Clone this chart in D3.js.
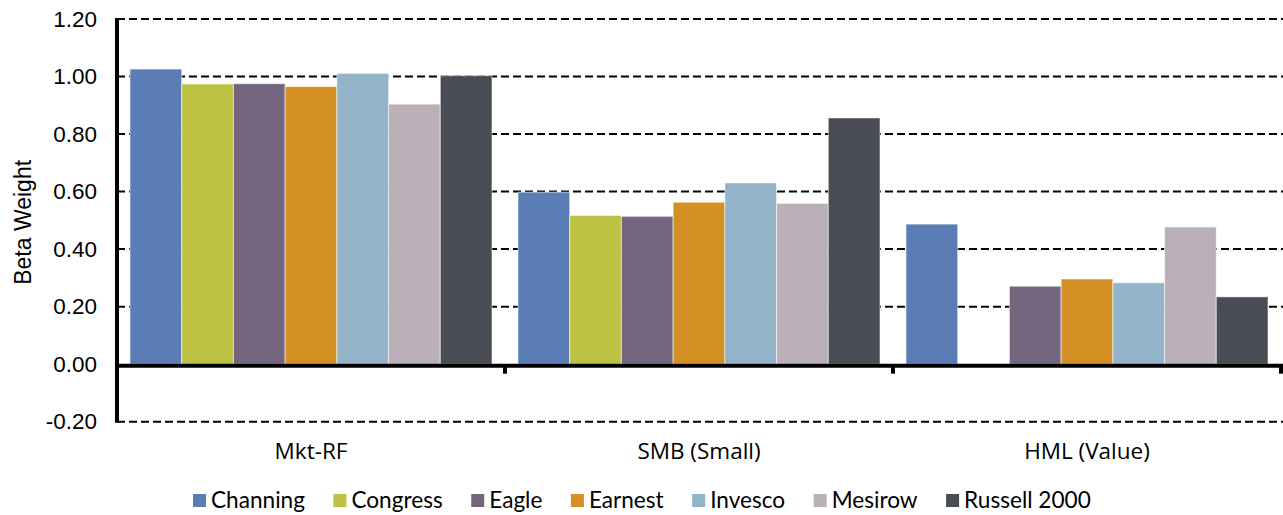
<!DOCTYPE html>
<html>
<head>
<meta charset="utf-8">
<script src="https://cdn.jsdelivr.net/npm/d3@7"></script>
<style>
  html, body { margin: 0; padding: 0; background: #fff; }
  svg { display: block; }
</style>
</head>
<body>
<svg id="chart" width="1283" height="515"></svg>
<script>
// ---- data ----
const categories = ["Mkt-RF", "SMB (Small)", "HML (Value)"];
const seriesNames = ["Channing", "Congress", "Eagle", "Earnest", "Invesco", "Mesirow", "Russell 2000"];
const channing   = [1.026, 0.598, 0.487];
const congress   = [0.974, 0.517, 0.000];
const eagle      = [0.975, 0.514, 0.271];
const earnest    = [0.965, 0.563, 0.296];
const invesco    = [1.011, 0.630, 0.283];
const mesirow    = [0.904, 0.559, 0.477];
const russell    = [1.003, 0.856, 0.234];
const yTicks = [-0.20, 0.00, 0.20, 0.40, 0.60, 0.80, 1.00, 1.20];
const colors = ["#5B7DB5", "#BDC242", "#74667F", "#D59025", "#93B4C8", "#BBAFB8", "#4A4C55"];

const seriesValues = [channing, congress, eagle, earnest, invesco, mesirow, russell];

// ---- layout ----
const svg = d3.select("#chart");
const plotLeft = 117, plotRight = 1281, plotTop = 19, plotBottom = 421.7;

const x = d3.scaleBand().domain(categories).range([plotLeft, plotRight]).padding(0);
const groupW = x.bandwidth();
const xi = d3.scaleBand().domain(seriesNames).range([groupW * 0.0335, groupW * 0.9665]).padding(0);
const y = d3.scaleLinear().domain([-0.2, 1.2]).range([plotBottom, plotTop]);

// gridlines
svg.append("g").selectAll("line")
  .data(yTicks.filter(t => t !== 0))
  .join("line")
  .attr("x1", plotLeft).attr("x2", 1283)
  .attr("y1", d => y(d)).attr("y2", d => y(d))
  .attr("stroke", "#000").attr("stroke-width", 2)
  .attr("stroke-dasharray", "8,4");

// bars
const rows = [];
categories.forEach((c, ci) => {
  seriesNames.forEach((s, si) => {
    rows.push({ cat: c, series: s, value: seriesValues[si][ci], color: colors[si] });
  });
});

svg.append("g").selectAll("rect")
  .data(rows.filter(d => d.value !== 0))
  .join("rect")
  .attr("x", d => x(d.cat) + xi(d.series))
  .attr("width", xi.bandwidth())
  .attr("y", d => y(Math.max(0, d.value)))
  .attr("height", d => Math.abs(y(d.value) - y(0)))
  .attr("fill", d => d.color)
  .attr("stroke", "rgba(255,255,255,0.55)")
  .attr("stroke-width", 1);

// y axis
const fmt = d3.format(".2f");
const yAxis = d3.axisLeft(y).tickValues(yTicks)
  .tickFormat(d => fmt(d).replace("\u2212", "-"))
  .tickSize(0).tickPadding(20);
const gy = svg.append("g").attr("transform", `translate(${plotLeft},0)`).call(yAxis);
gy.select(".domain").remove();
gy.selectAll("text")
  .attr("font-family", "'Liberation Sans', Arial, sans-serif")
  .attr("font-size", 22.5)
  .attr("fill", "#000");

svg.append("line")
  .attr("x1", plotLeft).attr("x2", plotLeft)
  .attr("y1", plotTop - 1).attr("y2", plotBottom + 1)
  .attr("stroke", "#000").attr("stroke-width", 4);

// x axis (zero line)
const zeroY = y(0) + 1.5;
svg.append("line")
  .attr("x1", plotLeft - 2).attr("x2", 1283)
  .attr("y1", zeroY).attr("y2", zeroY)
  .attr("stroke", "#000").attr("stroke-width", 4);

const xAxis = d3.axisBottom(x).tickSize(0);
const gx = svg.append("g").attr("transform", `translate(0,${zeroY})`).call(xAxis);
gx.select(".domain").remove();
gx.selectAll("text")
  .attr("y", 93)
  .attr("dy", 0)
  .attr("font-family", "'Open Sans', sans-serif")
  .attr("font-size", 22.5)
  .attr("fill", "#000");

// category boundary ticks
svg.append("g").selectAll("line")
  .data(categories.slice(1).concat(["__end"]))
  .join("line")
  .attr("x1", d => d === "__end" ? plotRight : x(d))
  .attr("x2", d => d === "__end" ? plotRight : x(d))
  .attr("y1", zeroY).attr("y2", zeroY + 8)
  .attr("stroke", "#000").attr("stroke-width", 4);

// axis title
svg.append("text")
  .attr("transform", `translate(31,${(plotTop + plotBottom) / 2 + 2}) rotate(-90)`)
  .attr("text-anchor", "middle")
  .attr("font-family", "'Liberation Sans', Arial, sans-serif")
  .attr("font-size", 23)
  .attr("fill", "#000")
  .text("Beta Weight");

// legend
const legend = svg.append("g");
let lx = 193;
seriesNames.forEach((s, i) => {
  legend.append("rect")
    .attr("x", lx).attr("y", 494)
    .attr("width", 13).attr("height", 13)
    .attr("fill", colors[i]);
  const t = legend.append("text")
    .attr("x", lx + 18).attr("y", 508)
    .attr("font-family", "Lato, sans-serif")
    .attr("font-size", 22.6)
    .attr("fill", "#000")
    .text(s);
  const w = t.node().getComputedTextLength();
  lx = lx + 18 + w + 28.5;
});
</script>
</body>
</html>
